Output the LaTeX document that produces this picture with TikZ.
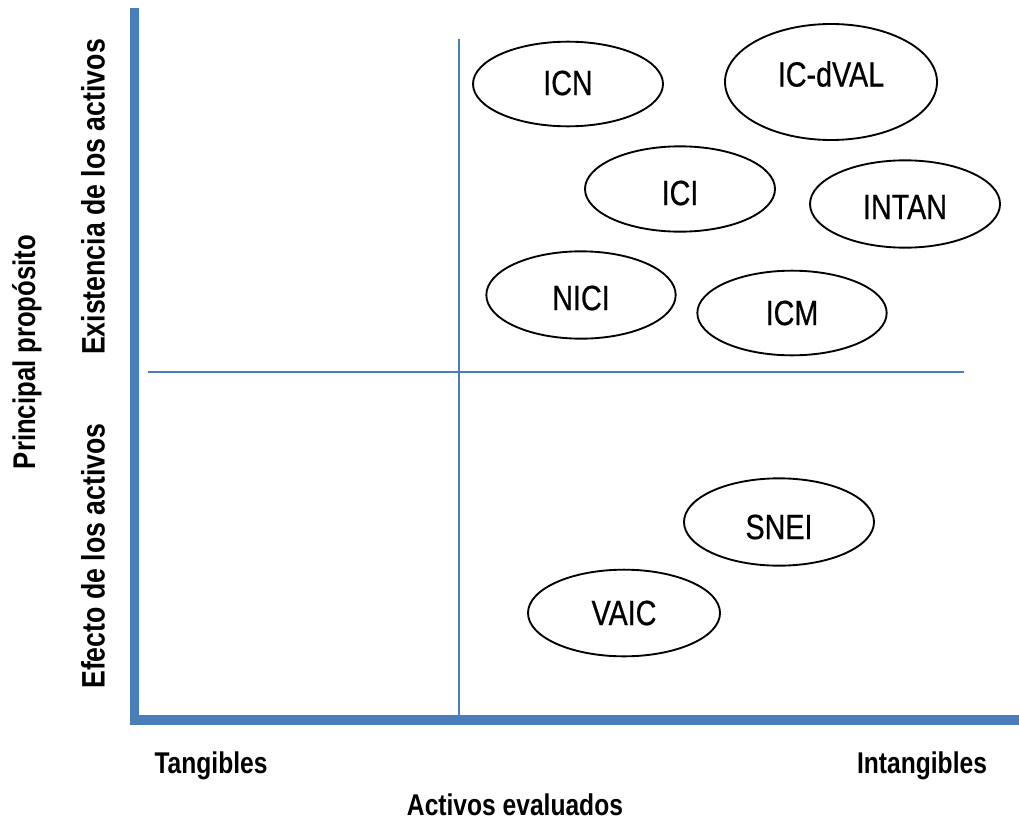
\documentclass[tikz,border=0pt]{standalone}
\usepackage{fontspec}
\setmainfont{Liberation Sans}[FakeStretch=0.82]
\newfontfamily\ovfont{Liberation Sans}[FakeStretch=0.82, FakeBold=0.6]
\usetikzlibrary{shapes.geometric}
\definecolor{axisblue}{HTML}{4A7EBB}
\tikzset{
  oval/.style={ellipse, draw=black, line width=1.4pt, inner sep=0pt, fill=white},
  lab/.style={inner sep=0pt, font=\ovfont\fontsize{26.25}{30}\selectfont},
  axlab/.style={inner sep=0pt, font=\bfseries\fontsize{22.5}{26}\selectfont},
  sidelab/.style={inner sep=0pt, rotate=90, font=\bfseries\fontsize{24.4}{28}\selectfont},
  thinline/.style={draw=axisblue, line width=1.9pt},
  thickaxis/.style={draw=axisblue, line width=6.9pt, line join=miter},
}
\begin{document}
\begin{tikzpicture}[x=0.75pt, y=-0.75pt]
\useasboundingbox (0,0) rectangle (1019,824);
% quadrant lines
\coordinate (vtop) at (459,39);
\coordinate (vbot) at (459,718);
\coordinate (hleft) at (148,372);
\coordinate (hright) at (964,372);
\draw[thinline] (vtop) -- (vbot);
\draw[thinline] (hleft) -- (hright);
% main axes
\coordinate (ytop) at (134.5,8);
\coordinate (origin) at (134.5,720);
\coordinate (xend) at (1019,720);
\draw[thickaxis] (ytop) -- (origin) -- (xend);
% ellipses
\node[oval, minimum width=142.5pt, minimum height=63.5pt, label={[lab,yshift=0.75pt]center:ICN}] (icn) at (568,84) {};
\node[oval, minimum width=159pt, minimum height=87pt, label={[lab,yshift=6pt]center:IC-dVAL}] (icdval) at (831,82) {};
\node[oval, minimum width=142.5pt, minimum height=64pt, label={[lab,yshift=-3pt]center:ICI}] (ici) at (680,189) {};
\node[oval, minimum width=142.5pt, minimum height=65.5pt, label={[lab,yshift=-2.25pt]center:INTAN}] (intan) at (905,204) {};
\node[oval, minimum width=142pt, minimum height=65.5pt, label={[lab,yshift=-2.25pt]center:NICI}] (nici) at (581,295) {};
\node[oval, minimum width=142pt, minimum height=63.5pt, label={[lab,yshift=0pt]center:ICM}] (icm) at (792,313) {};
\node[oval, minimum width=142.5pt, minimum height=65.5pt, label={[lab,yshift=-3.75pt]center:SNEI}] (snei) at (779,522) {};
\node[oval, minimum width=144pt, minimum height=65pt, label={[lab]center:VAIC}] (vaic) at (624,613) {};
% axis labels
\node[axlab] (tang) at (211,766) {Tangibles};
\node[axlab] (intang) at (922,766) {Intangibles};
\node[axlab] (actev) at (515,805) {Activos evaluados};
\node[sidelab, font=\bfseries\fontsize{23.5}{27}\selectfont] (princ) at (27,352) {Principal propósito};
\node[sidelab] (exist) at (93,197) {Existencia de los activos};
\node[sidelab] (efecto) at (93,556) {Efecto de los activos};
\end{tikzpicture}
\end{document}
